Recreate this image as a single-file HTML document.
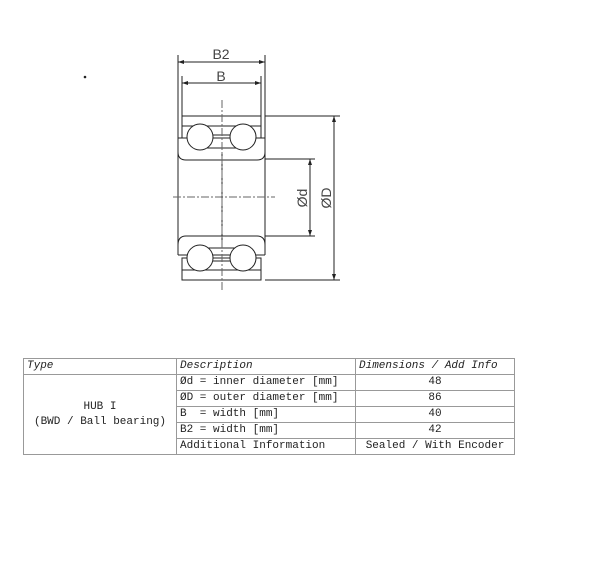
<!DOCTYPE html>
<html><head><meta charset="utf-8"><style>
body{margin:0;background:#fff;width:608px;height:578px;overflow:hidden;position:relative;font-family:"Liberation Mono",monospace}
table{position:absolute;left:23px;top:358px;border-collapse:collapse;font-size:11px;color:#222}
td{border:1px solid #999;height:15px;padding:0 3px;line-height:15px;white-space:nowrap}
table{border:1px solid #222}
.h td{font-style:italic}
.c{text-align:center}
</style></head><body>
<svg width="608" height="350" style="position:absolute;left:0;top:0" font-family="Liberation Sans, sans-serif">
<g stroke="#222" fill="none" stroke-width="1">
<circle cx="85" cy="77" r="0.8" fill="#222"/>
<!-- extension lines -->
<line x1="178" y1="55" x2="178" y2="138"/>
<line x1="265" y1="55" x2="265" y2="138"/>
<line x1="182" y1="76" x2="182" y2="116"/>
<line x1="261" y1="76" x2="261" y2="116"/>
<line x1="178" y1="62" x2="265" y2="62"/>
<line x1="182" y1="83" x2="261" y2="83"/>
<!-- outer rings -->
<rect x="182" y="116" width="79" height="22" />
<line x1="182" y1="126" x2="261" y2="126"/>
<rect x="182" y="258" width="79" height="22" />
<line x1="182" y1="270" x2="261" y2="270"/>
<!-- inner ring body -->
<path d="M178 138 V255 M265 138 V255"/>
<path d="M178 138 H265 M178 138 V152 Q178 160 186 160 H257 Q265 160 265 152 V138"/>
<path d="M178 255 V245 Q178 236 186 236 H257 Q265 236 265 245 V255 M178 255 H265"/>
<line x1="200" y1="135" x2="243" y2="135"/>
<line x1="200" y1="148" x2="243" y2="148"/>
<line x1="200" y1="248" x2="243" y2="248"/>
<line x1="200" y1="261" x2="243" y2="261"/>
<circle cx="200" cy="137" r="13" fill="#fff"/>
<circle cx="243" cy="137" r="13" fill="#fff"/>
<circle cx="200" cy="258" r="13" fill="#fff"/>
<circle cx="243" cy="258" r="13" fill="#fff"/>
<line x1="222" y1="152" x2="222" y2="245"/>
<line x1="222" y1="100" x2="222" y2="290" stroke-dasharray="8,2,2,2" stroke="#666"/>
<line x1="173" y1="197" x2="275" y2="197" stroke-dasharray="8,2,2,2" stroke="#666"/>
<!-- dims -->
<line x1="265" y1="159" x2="315" y2="159"/>
<line x1="265" y1="236" x2="315" y2="236"/>
<line x1="265" y1="116" x2="340" y2="116"/>
<line x1="265" y1="280" x2="340" y2="280"/>
<line x1="310" y1="159" x2="310" y2="236"/>
<line x1="334" y1="116" x2="334" y2="280"/>
</g>
<g fill="#222">
<path d="M178 62 l6 -2 v4z M265 62 l-6 -2 v4z M182 83 l6 -2 v4z M261 83 l-6 -2 v4z M310 159 l-2 6 h4z M310 236 l-2 -6 h4z M334 116 l-2 6 h4z M334 280 l-2 -6 h4z"/>
</g>
<g fill="#444" font-size="14">
<text x="221" y="59" text-anchor="middle">B2</text>
<text x="221" y="81" text-anchor="middle">B</text>
<text transform="translate(307,198) rotate(-90)" text-anchor="middle">Ød</text>
<text transform="translate(331,198) rotate(-90)" text-anchor="middle">ØD</text>
</g>
</svg>
<table>
<tr class="h"><td style="width:146px">Type</td><td style="width:172px">Description</td><td style="width:152px">Dimensions / Add Info</td></tr>
<tr><td rowspan="5" class="c">HUB I<br>(BWD / Ball bearing)</td><td>Ød = inner diameter [mm]</td><td class="c">48</td></tr>
<tr><td>ØD = outer diameter [mm]</td><td class="c">86</td></tr>
<tr><td>B&nbsp; = width [mm]</td><td class="c">40</td></tr>
<tr><td>B2 = width [mm]</td><td class="c">42</td></tr>
<tr><td>Additional Information</td><td class="c">Sealed / With Encoder</td></tr>
</table>
</body></html>
